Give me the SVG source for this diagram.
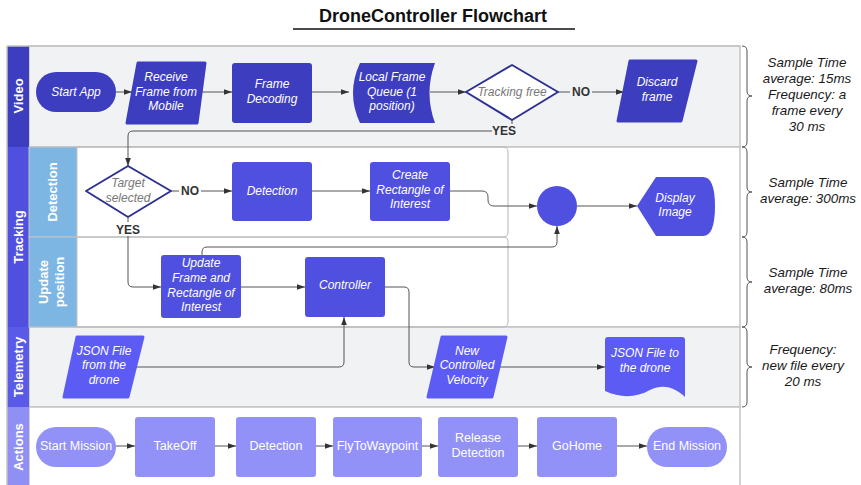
<svg xmlns="http://www.w3.org/2000/svg" width="861" height="485" viewBox="0 0 861 485">
<defs>
<marker id="arr" viewBox="0 0 10 10" refX="10" refY="5" markerWidth="8" markerHeight="8" markerUnits="userSpaceOnUse" orient="auto">
<path d="M0,1.5 L10,5 L0,8.5 Z" fill="#333"/>
</marker>
<style>
.t{font-family:"Liberation Sans",Arial,sans-serif;}
.lbl{font-family:"Liberation Sans",Arial,sans-serif;font-size:12px;fill:#fff;font-style:italic;text-anchor:middle;}
.act{font-family:"Liberation Sans",Arial,sans-serif;font-size:12.5px;fill:#fff;text-anchor:middle;}
.hdr{font-family:"Liberation Sans",Arial,sans-serif;font-size:13px;font-weight:bold;fill:#fff;text-anchor:middle;}
.sub{font-family:"Liberation Sans",Arial,sans-serif;font-size:13px;font-weight:bold;fill:#fff;text-anchor:middle;}
.note{font-family:"Liberation Sans",Arial,sans-serif;font-size:13.4px;font-style:italic;fill:#1a1a1a;text-anchor:middle;}
.yn{font-family:"Liberation Sans",Arial,sans-serif;font-size:12px;font-weight:bold;fill:#333;text-anchor:middle;}
.dq{font-family:"Liberation Sans",Arial,sans-serif;font-size:12px;font-style:italic;fill:#777;text-anchor:middle;}
.c{fill:none;stroke:#555;stroke-width:1;marker-end:url(#arr);}
.lane{stroke:#c4c4c4;stroke-width:1.5;}
.brace{fill:none;stroke:#555;stroke-width:1;}
.v{fill:#3d3dbf;}
.tr{fill:#5050e0;}
.tl{fill:#5c5cf5;}
.ac{fill:#9191f7;}
</style>
</defs>

<!-- Title -->
<g id="title">
<text class="t" x="433" y="22" font-size="18" font-weight="bold" text-anchor="middle" fill="#111">DroneController Flowchart</text>
<line x1="293" y1="29" x2="575" y2="29" stroke="#111" stroke-width="1.5"/>
</g>

<!-- Lanes -->
<g id="lanes">
<rect x="29" y="46" width="711" height="101" fill="#f1f2f4" class="lane"/>
<rect x="29" y="147" width="711" height="180" fill="#ffffff" class="lane"/>
<rect x="29" y="327" width="711" height="80" fill="#f1f2f4" class="lane"/>
<rect x="29" y="407" width="711" height="80" fill="#ffffff" class="lane"/>
<path d="M77,147 H503 Q508,147 508,152 V232 Q508,237 503,237 H77" fill="none" stroke="#b8b8b8" stroke-width="1"/>
<path d="M77,237 H503 Q508,237 508,242 V322 Q508,327 503,327 H77" fill="none" stroke="#b8b8b8" stroke-width="1"/>
<rect x="7" y="46" width="22" height="101" fill="#3d3dbf"/>
<rect x="7" y="147" width="22" height="180" fill="#5050e0"/>
<rect x="7" y="327" width="22" height="80" fill="#5a5ae8"/>
<rect x="7" y="407" width="22" height="80" fill="#8f8ff5"/>
<rect x="29" y="147" width="48" height="90" fill="#7eb6e3" stroke="#c4c4c4" stroke-width="1"/>
<rect x="29" y="237" width="48" height="90" fill="#7eb6e3" stroke="#c4c4c4" stroke-width="1"/>
<line x1="7" y1="46" x2="740" y2="46" class="lane"/>
<line x1="7" y1="46" x2="7" y2="485" class="lane"/>
<text class="hdr" transform="translate(23,96) rotate(-90)">Video</text>
<text class="hdr" transform="translate(23,237) rotate(-90)">Tracking</text>
<text class="hdr" transform="translate(23,367) rotate(-90)">Telemetry</text>
<text class="hdr" transform="translate(23,447) rotate(-90)">Actions</text>
<text class="sub" transform="translate(57,192) rotate(-90)">Detection</text>
<text class="sub" transform="translate(0,282) rotate(-90)"><tspan x="0" y="48">Update</tspan><tspan x="0" y="64">position</tspan></text>
</g>

<!-- Braces and notes -->
<g id="notes">
<path class="brace" d="M742,46 Q747,46 747,51 V91 Q747,96 752,96 Q747,96 747,101 V142 Q747,147 742,147"/>
<path class="brace" d="M742,147 Q747,147 747,152 V187 Q747,192 752,192 Q747,192 747,197 V232 Q747,237 742,237"/>
<path class="brace" d="M742,237 Q747,237 747,242 V277 Q747,282 752,282 Q747,282 747,287 V322 Q747,327 742,327"/>
<path class="brace" d="M742,327 Q747,327 747,332 V362 Q747,367 752,367 Q747,367 747,372 V402 Q747,407 742,407"/>
<text class="note"><tspan x="807" y="67">Sample Time</tspan><tspan x="807" y="83">average: 15ms</tspan><tspan x="807" y="99">Frequency: a</tspan><tspan x="807" y="115">frame every</tspan><tspan x="807" y="131">30 ms</tspan></text>
<text class="note"><tspan x="808" y="187">Sample Time</tspan><tspan x="808" y="203">average: 300ms</tspan></text>
<text class="note"><tspan x="808" y="277">Sample Time</tspan><tspan x="808" y="293">average: 80ms</tspan></text>
<text class="note"><tspan x="803" y="354">Frequency:</tspan><tspan x="803" y="370">new file every</tspan><tspan x="803" y="386">20 ms</tspan></text>
</g>

<!-- Connectors -->
<g id="connectors">
<path class="c" d="M116,92 H132"/>
<path class="c" d="M201,92 H232"/>
<path class="c" d="M312,92 H349"/>
<path class="c" d="M430,92 H466"/>
<path class="c" d="M558,92 H624"/>
<path class="c" d="M512,120 V131 H133 Q128,131 128,136 V166"/>
<path class="c" d="M171,191 H232"/>
<path class="c" d="M312,191 H370"/>
<path class="c" d="M450,191 H482 Q488,191 488,197 V200 Q488,206 494,206 H537"/>
<path class="c" d="M577,206 H637"/>
<path class="c" d="M128,217 V282 Q128,287 133,287 H161"/>
<path class="c" d="M202,255 V252 Q202,247 207,247 H552 Q557,247 557,242 V226"/>
<path class="c" d="M241,287 H305"/>
<path class="c" d="M385,287 H404 Q409,287 409,292 V362 Q409,367 414,367 H435"/>
<path class="c" d="M136,367 H339 Q344,367 344,362 V317"/>
<path class="c" d="M499,367 H605"/>
<path class="c" d="M116,446 H135"/>
<path class="c" d="M215,446 H236"/>
<path class="c" d="M316,446 H333"/>
<path class="c" d="M422,446 H438"/>
<path class="c" d="M518,446 H537"/>
<path class="c" d="M617,446 H647"/>
<rect x="570" y="85" width="22" height="14" fill="#f1f2f4"/>
<text class="yn" x="581" y="96">NO</text>
<rect x="492" y="124" width="24" height="13" fill="#f1f2f4"/>
<text class="yn" x="504" y="135">YES</text>
<rect x="179" y="184" width="22" height="14" fill="#fff"/>
<text class="yn" x="190" y="195">NO</text>
<rect x="115" y="222" width="26" height="14" fill="#fff"/>
<text class="yn" x="128" y="234">YES</text>
</g>

<!-- Video nodes -->
<g id="start-app">
<rect x="36" y="72" width="80" height="40" rx="20" class="v"/>
<text class="lbl" x="76" y="96">Start App</text>
</g>
<g id="receive-frame">
<path d="M138,63 H205 L197,123 H127 Z" class="v" stroke="#3d3dbf" stroke-width="3" stroke-linejoin="round"/>
<text class="lbl"><tspan x="166" y="81">Receive</tspan><tspan x="166" y="96">Frame from</tspan><tspan x="166" y="110">Mobile</tspan></text>
</g>
<g id="frame-decoding">
<rect x="232" y="63" width="80" height="60" rx="3" class="v"/>
<text class="lbl"><tspan x="272" y="88">Frame</tspan><tspan x="272" y="103">Decoding</tspan></text>
</g>
<g id="local-queue">
<path d="M360,63 H435 Q424,93 435,123 H360 Q346,93 360,63 Z" class="v"/>
<text class="lbl"><tspan x="392" y="81">Local Frame</tspan><tspan x="392" y="96">Queue (1</tspan><tspan x="392" y="110">position)</tspan></text>
</g>
<g id="tracking-free">
<path d="M466,92 L512,65 L558,92 L512,120 Z" fill="#fff" stroke="#2e3192" stroke-width="2" stroke-linejoin="round"/>
<text class="dq" x="512" y="96">Tracking free</text>
</g>
<g id="discard-frame">
<path d="M630,61 H696 L681,121 H618 Z" class="v" stroke="#3d3dbf" stroke-width="3" stroke-linejoin="round"/>
<text class="lbl"><tspan x="657" y="86">Discard</tspan><tspan x="657" y="101">frame</tspan></text>
</g>

<!-- Tracking nodes -->
<g id="target-selected">
<path d="M86,191 L128,166 L171,191 L128,217 Z" fill="#fff" stroke="#2e3192" stroke-width="2" stroke-linejoin="round"/>
<text class="dq"><tspan x="128" y="187">Target</tspan><tspan x="128" y="202">selected</tspan></text>
</g>
<g id="detection">
<rect x="232" y="162" width="80" height="59" rx="3" class="tr"/>
<text class="lbl" x="272" y="195">Detection</text>
</g>
<g id="create-roi">
<rect x="370" y="162" width="80" height="59" rx="3" class="tr"/>
<text class="lbl"><tspan x="410" y="179">Create</tspan><tspan x="410" y="194">Rectangle of</tspan><tspan x="410" y="208">Interest</tspan></text>
</g>
<g id="merge">
<circle cx="557" cy="206" r="20" class="tr"/>
</g>
<g id="display-image">
<path d="M637,206 L656,177 H703 Q715,177 715,206 Q715,236 703,236 H656 Z" class="tr"/>
<text class="lbl"><tspan x="675" y="202">Display</tspan><tspan x="675" y="216">Image</tspan></text>
</g>
<g id="update-frame">
<rect x="161" y="255" width="80" height="63" rx="3" class="tr"/>
<text class="lbl"><tspan x="201" y="267">Update</tspan><tspan x="201" y="282">Frame and</tspan><tspan x="201" y="297">Rectangle of</tspan><tspan x="201" y="311">Interest</tspan></text>
</g>
<g id="controller">
<rect x="305" y="257" width="80" height="60" rx="3" class="tr"/>
<text class="lbl" x="345" y="289">Controller</text>
</g>

<!-- Telemetry nodes -->
<g id="json-from-drone">
<path d="M77,337 H143 L128,397 H64 Z" class="tl" stroke="#5c5cf5" stroke-width="3" stroke-linejoin="round"/>
<text class="lbl"><tspan x="104" y="355">JSON File</tspan><tspan x="104" y="369">from the</tspan><tspan x="104" y="384">drone</tspan></text>
</g>
<g id="new-velocity">
<path d="M442,337 H506 L492,397 H428 Z" class="tl" stroke="#5c5cf5" stroke-width="3" stroke-linejoin="round"/>
<text class="lbl"><tspan x="467" y="355">New</tspan><tspan x="467" y="369">Controlled</tspan><tspan x="467" y="384">Velocity</tspan></text>
</g>
<g id="json-to-drone">
<path d="M608,337 H682 Q685,337 685,340 V397 C676,388 664,383 650,390 C636,398 620,398 605,391 V340 Q605,337 608,337 Z" class="tl"/>
<text class="lbl"><tspan x="645" y="357">JSON File to</tspan><tspan x="645" y="372">the drone</tspan></text>
</g>

<!-- Actions nodes -->
<g id="start-mission">
<rect x="36" y="427" width="80" height="40" rx="20" class="ac"/>
<text class="act" x="76" y="450">Start Mission</text>
</g>
<g id="takeoff">
<rect x="135" y="417" width="80" height="60" rx="3" class="ac"/>
<text class="act" x="175" y="450">TakeOff</text>
</g>
<g id="act-detection">
<rect x="236" y="417" width="80" height="60" rx="3" class="ac"/>
<text class="act" x="276" y="450">Detection</text>
</g>
<g id="fly-waypoint">
<rect x="333" y="417" width="89" height="60" rx="3" class="ac"/>
<text class="act" x="377.5" y="450">FlyToWaypoint</text>
</g>
<g id="release-detection">
<rect x="438" y="417" width="80" height="60" rx="3" class="ac"/>
<text class="act"><tspan x="478" y="442">Release</tspan><tspan x="478" y="457">Detection</tspan></text>
</g>
<g id="gohome">
<rect x="537" y="417" width="80" height="60" rx="3" class="ac"/>
<text class="act" x="577" y="450">GoHome</text>
</g>
<g id="end-mission">
<rect x="647" y="427" width="80" height="40" rx="20" class="ac"/>
<text class="act" x="687" y="450">End Mission</text>
</g>
</svg>
